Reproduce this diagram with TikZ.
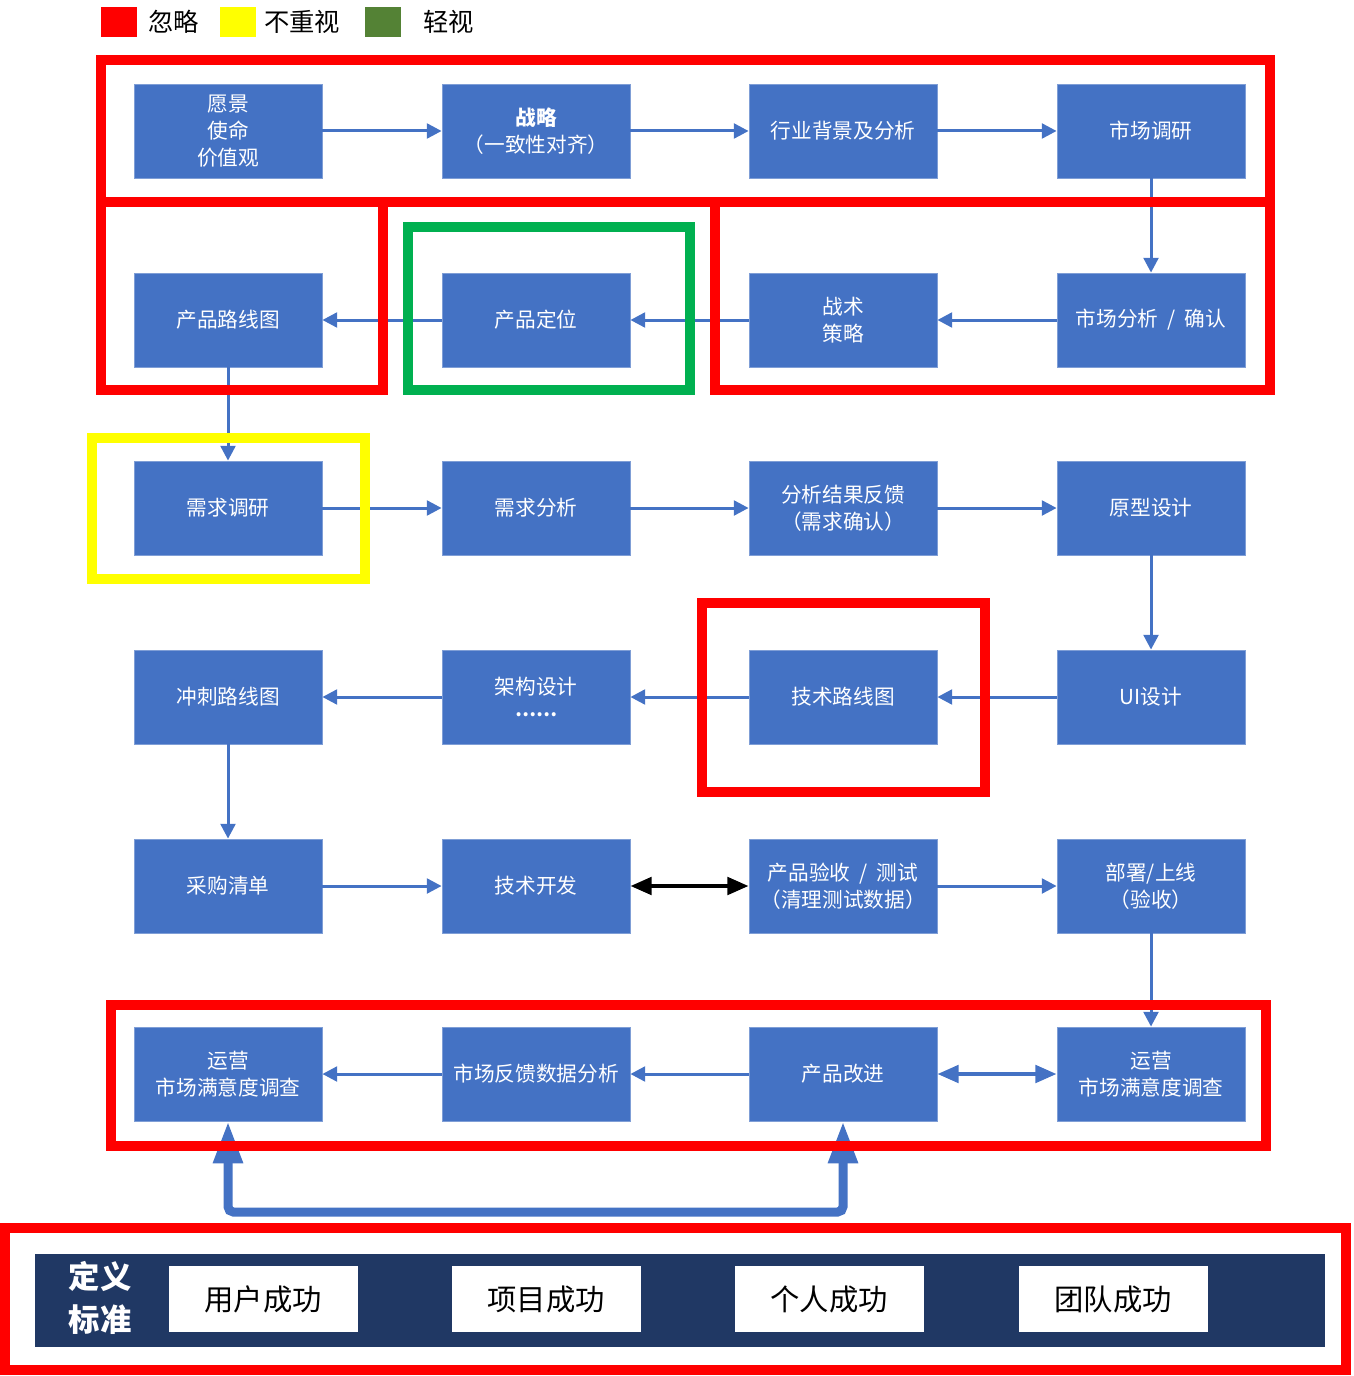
\documentclass[tikz,border=0pt]{standalone}
\usepackage{fontspec}
\setmainfont{Noto Sans CJK SC}
\usetikzlibrary{arrows.meta}
\definecolor{boxblue}{HTML}{4472C4}
\definecolor{boxline}{HTML}{7F9ED6}
\definecolor{navy}{HTML}{203864}
\definecolor{keyred}{HTML}{FF0000}
\definecolor{keyyellow}{HTML}{FFFF00}
\definecolor{keygreen}{HTML}{548235}
\definecolor{framegreen}{HTML}{00B050}

\begin{document}
\begin{tikzpicture}[x=0.75pt, y=-0.75pt,
  stage/.style={rectangle, fill=boxblue, draw=boxline, line width=0.6pt,
    minimum width=141pt, minimum height=70.5pt, inner sep=1pt,
    text=white, align=center, font=\fontsize{15.5}{20.5}\selectfont},
  flow/.style={draw=boxblue, line width=2.25pt, -{Triangle[length=11pt,width=11pt]}},
  both/.style={draw=#1, line width=3.2pt,
    {Triangle[length=16pt,width=13pt]}-{Triangle[length=16pt,width=13pt]}},
  hilite/.style={draw=#1, line width=7.5pt},
  swatch/.style={rectangle, fill=#1, minimum width=27pt, minimum height=22.5pt, inner sep=0pt},
  keytext/.style={anchor=west, inner sep=0pt, font=\fontsize{19}{19}\selectfont},
  goal/.style={rectangle, fill=white, minimum width=141.75pt, minimum height=49.5pt,
    inner sep=0pt, font=\fontsize{22}{22}\selectfont}]
\useasboundingbox (0,0) rectangle (1353,1376);

% legend
\node[swatch=keyred] (keyr) at (119,22) {};
\node[keytext] (keyrtxt) at (148,22) {忽略};
\node[swatch=keyyellow] (keyy) at (238,22) {};
\node[keytext] (keyytxt) at (264,22) {不重视};
\node[swatch=keygreen] (keyg) at (383,22) {};
\node[keytext] (keygtxt) at (423,22) {轻视};

% row 1
\node[stage] (vision) at (228,131) {愿景\\使命\\价值观};
\node[stage] (strategy) at (536,131) {\textbf{战略}\\（一致性对齐）};
\node[stage] (industry) at (843,131) {行业背景及分析};
\node[stage] (research) at (1151,131) {市场调研};

% row 2
\node[stage] (roadmap) at (228,320) {产品路线图};
\node[stage] (position) at (536,320) {产品定位};
\node[stage] (tactics) at (843,320) {战术\\策略};
\node[stage] (analysis) at (1151,320) {市场分析 \ / \ 确认};

% row 3
\node[stage] (reqsurvey) at (228,508) {需求调研};
\node[stage] (reqanalysis) at (536,508) {需求分析};
\node[stage] (feedback) at (843,508) {分析结果反馈\\（需求确认）};
\node[stage] (prototype) at (1151,508) {原型设计};

% row 4
\node[stage] (sprint) at (228,697) {冲刺路线图};
\node[stage] (arch) at (536,697) {架构设计\\[-4pt]{\fontsize{14}{14}\selectfont\bfseries ……}};
\node[stage] (techmap) at (843,697) {技术路线图};
\node[stage] (uidesign) at (1151,697) {UI设计};

% row 5
\node[stage] (purchase) at (228,886) {采购清单};
\node[stage] (develop) at (536,886) {技术开发};
\node[stage] (accept) at (843,886) {产品验收 \ / \ 测试\\（清理测试数据）};
\node[stage] (deploy) at (1151,886) {部署/上线\\（验收）};

% row 6
\node[stage] (opsleft) at (228,1074) {运营\\市场满意度调查};
\node[stage] (marketdata) at (536,1074) {市场反馈数据分析};
\node[stage] (improve) at (843,1074) {产品改进};
\node[stage] (opsright) at (1151,1074) {运营\\市场满意度调查};

% connectors
\draw[flow] (vision) -- (strategy);
\draw[flow] (strategy) -- (industry);
\draw[flow] (industry) -- (research);
\draw[flow] (research) -- (analysis);
\draw[flow] (analysis) -- (tactics);
\draw[flow] (tactics) -- (position);
\draw[flow] (position) -- (roadmap);
\draw[flow] (roadmap) -- (reqsurvey);
\draw[flow] (reqsurvey) -- (reqanalysis);
\draw[flow] (reqanalysis) -- (feedback);
\draw[flow] (feedback) -- (prototype);
\draw[flow] (prototype) -- (uidesign);
\draw[flow] (uidesign) -- (techmap);
\draw[flow] (techmap) -- (arch);
\draw[flow] (arch) -- (sprint);
\draw[flow] (sprint) -- (purchase);
\draw[flow] (purchase) -- (develop);
\draw[both=black] (develop) -- (accept);
\draw[flow] (accept) -- (deploy);
\draw[flow] (deploy) -- (opsright);
\draw[both=boxblue] (improve) -- (opsright);
\draw[flow] (improve) -- (marketdata);
\draw[flow] (marketdata) -- (opsleft);

% standards bar feeding back up
\coordinate (base) at (536,1212);
\draw[draw=boxblue, line width=6.75pt, rounded corners=4pt,
  {Triangle[length=31.5pt,width=21pt]}-{Triangle[length=31.5pt,width=21pt]}]
  (opsleft.south) |- (base) -| (improve.south);

% highlight frames
\draw[hilite=keyred] (101,60) rectangle (1270,202);
\draw[hilite=keyred] (101,202) rectangle (383,390);
\draw[hilite=framegreen] (408,227) rectangle (690,390);
\draw[hilite=keyred] (715,202) rectangle (1270,390);
\draw[hilite=keyyellow] (92,438) rectangle (365,579);
\draw[hilite=keyred] (702,603) rectangle (985,792);
\draw[hilite=keyred] (111,1005) rectangle (1266,1146);
\draw[hilite=keyred] (5,1228) rectangle (1346,1370);

% definition bar
\node[rectangle, fill=navy, minimum width=967.5pt, minimum height=69.75pt, inner sep=0pt] (bar) at (680,1300) {};
\node[text=white, align=center, inner sep=0pt, font=\fontsize{23.5}{32}\selectfont\bfseries] (define) at (100,1298) {定义\\标准};
\node[goal] (user) at (263,1299) {用户成功};
\node[goal] (project) at (546,1299) {项目成功};
\node[goal] (person) at (829,1299) {个人成功};
\node[goal] (team) at (1113,1299) {团队成功};
\end{tikzpicture}
\end{document}
